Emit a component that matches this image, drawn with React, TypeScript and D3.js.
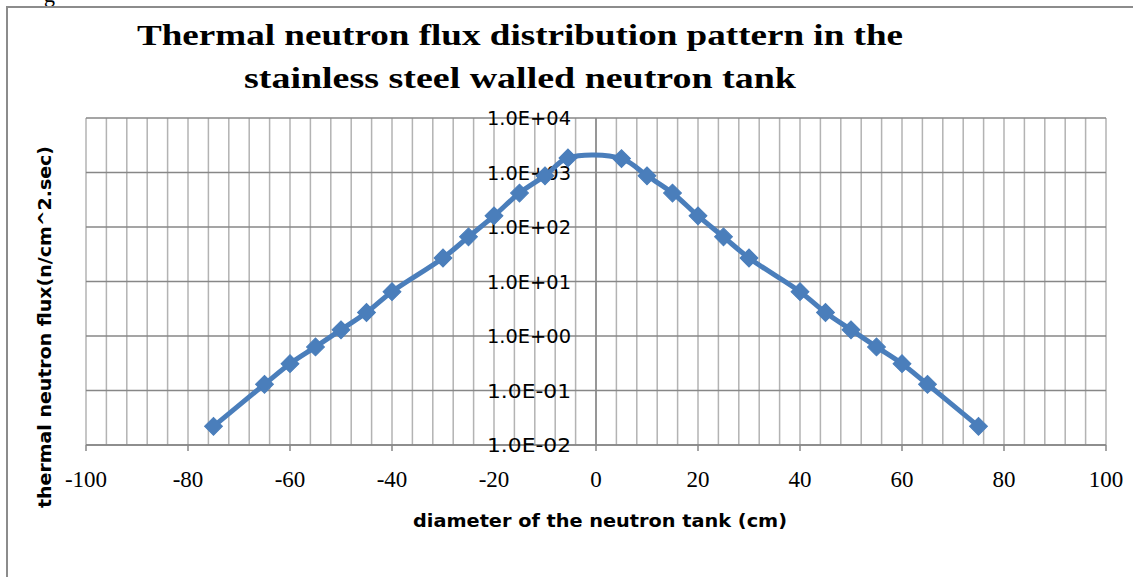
import * as d3 from "d3";

// diameter positions (cm) and measured thermal flux (n/cm^2.sec)
const positions = [
  -75, -65, -60, -55, -50, -45, -40, -30, -25, -20, -15, -10, -5.5,
  5, 10, 15, 20, 25, 30, 40, 45, 50, 55, 60, 65, 75,
];
const flux = [
  0.022, 0.13, 0.31, 0.63, 1.3, 2.7, 6.5, 27, 66, 160, 420, 870, 1850,
  1800, 870, 420, 160, 66, 27, 6.5, 2.7, 1.3, 0.63, 0.31, 0.13, 0.022,
];

const yTicks = [1e-2, 1e-1, 1e0, 1e1, 1e2, 1e3, 1e4];
const yTickLabels = ["1.0E-02", "1.0E-01", "1.0E+00", "1.0E+01", "1.0E+02", "1.0E+03", "1.0E+04"];
const xTicks = [-100, -80, -60, -40, -20, 0, 20, 40, 60, 80, 100];
const xGrid = d3.range(-100, 101, 4);

const titleLines = [
  "Thermal neutron flux distribution pattern in the",
  "stainless  steel walled neutron tank",
];
const xTitle = "diameter of the neutron tank (cm)";
const yTitle = "thermal neutron flux(n/cm^2.sec)";

const W = 1133;
const H = 577;
const plot = { left: 86, right: 1106, top: 118, bottom: 445 };
const blue = "#4a7ebb";

export default function App() {
  const x = d3.scaleLinear().domain([-100, 100]).range([plot.left, plot.right]);
  const y = d3.scaleLog().domain([1e-2, 1e4]).range([plot.bottom, plot.top]);

  const points = positions.map((p, i) => [p, flux[i]] as [number, number]);
  const line = d3
    .line<[number, number]>()
    .x((d) => x(d[0]))
    .y((d) => y(d[1]))
    .curve(d3.curveCatmullRom.alpha(0.5));

  const marker = d3.symbol(d3.symbolSquare, 160)();

  return (
    <svg
      width={W}
      height={H}
      style={{ position: "absolute", left: 0, top: 0, background: "#fff" }}
    >
      {/* fragment of text from the page above */}
      <text x={44} y={2} fontFamily="Liberation Serif" fontSize={22}>g</text>

      {/* chart frame */}
      <rect x={7} y={7} width={W + 20} height={H + 20} fill="#fff" stroke="#8c8c8c" strokeWidth={2} />

      {/* title */}
      {titleLines.map((t, i) => (
        <text
          key={i}
          x={520}
          y={45 + i * 43}
          textAnchor="middle"
          fontFamily="Liberation Serif"
          fontWeight="bold"
          fontSize={30}
          textLength={i === 0 ? 766 : 552}
          lengthAdjust="spacingAndGlyphs"
        >
          {t}
        </text>
      ))}

      {/* vertical grid */}
      {xGrid.map((v) => (
        <line
          key={v}
          x1={x(v)}
          x2={x(v)}
          y1={plot.top}
          y2={plot.bottom}
          stroke="#b3b3b3"
          strokeWidth={1.5}
        />
      ))}

      {/* horizontal grid */}
      {yTicks.map((v) => (
        <line
          key={v}
          x1={plot.left}
          x2={plot.right}
          y1={y(v)}
          y2={y(v)}
          stroke="#878787"
          strokeWidth={1.5}
        />
      ))}

      {/* y axis at x = 0 */}
      <line x1={x(0)} x2={x(0)} y1={plot.top} y2={plot.bottom} stroke="#878787" strokeWidth={1.5} />

      {/* x axis with ticks */}
      <line x1={plot.left} x2={plot.right} y1={plot.bottom} y2={plot.bottom} stroke="#878787" strokeWidth={1.5} />
      {xTicks.map((v) => (
        <g key={v}>
          <line x1={x(v)} x2={x(v)} y1={plot.bottom} y2={plot.bottom + 6} stroke="#878787" strokeWidth={1.5} />
          <text
            x={x(v)}
            y={plot.bottom + 42}
            textAnchor="middle"
            fontFamily="Liberation Serif"
            fontSize={23}
          >
            {v}
          </text>
        </g>
      ))}

      {/* y tick labels */}
      {yTicks.map((v, i) => (
        <text
          key={v}
          x={571}
          y={y(v)}
          dy="0.36em"
          textAnchor="end"
          fontFamily="DejaVu Sans"
          fontSize={20}
          textLength={84}
          lengthAdjust="spacingAndGlyphs"
        >
          {yTickLabels[i]}
        </text>
      ))}

      {/* series */}
      <path d={line(points) ?? ""} fill="none" stroke={blue} strokeWidth={5} />
      {points.map((d, i) => (
        <path
          key={i}
          d={marker ?? ""}
          transform={`translate(${x(d[0])},${y(d[1])}) rotate(45)`}
          fill={blue}
          stroke={blue}
          strokeWidth={1}
        />
      ))}

      {/* axis titles */}
      <text
        x={600}
        y={527}
        textAnchor="middle"
        fontFamily="DejaVu Sans"
        fontWeight="bold"
        fontSize={17}
        textLength={374}
        lengthAdjust="spacingAndGlyphs"
      >
        {xTitle}
      </text>
      <text
        transform="translate(51,327) rotate(-90)"
        textAnchor="middle"
        fontFamily="DejaVu Sans"
        fontWeight="bold"
        fontSize={17}
        textLength={362}
        lengthAdjust="spacingAndGlyphs"
      >
        {yTitle}
      </text>
    </svg>
  );
}
